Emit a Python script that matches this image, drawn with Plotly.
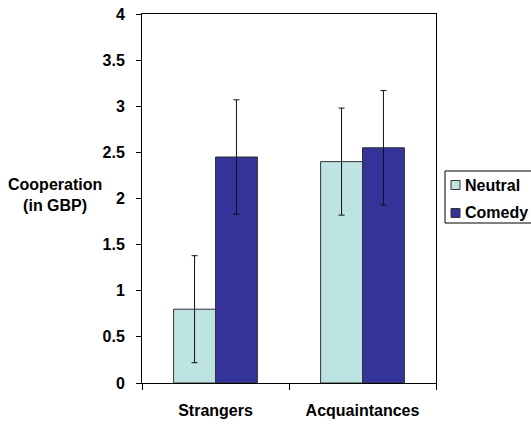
import plotly.graph_objects as go

categories = ["Strangers", "Acquaintances"]
series_names = ["Neutral", "Comedy"]
neutral_vals = [0.80, 2.40]
comedy_vals = [2.45, 2.55]
neutral_err = [0.58, 0.58]
comedy_err = [0.62, 0.62]
y_tick_vals = [0, 0.5, 1, 1.5, 2, 2.5, 3, 3.5, 4]
y_tick_text = ["0", "0.5", "1", "1.5", "2", "2.5", "3", "3.5", "4"]

colors = ["#BDE3E3", "#333399"]
FONT = "Liberation Sans, Arial, sans-serif"
FS = 16

fig = go.Figure()
for name, vals, errs, col in zip(series_names, [neutral_vals, comedy_vals],
                                 [neutral_err, comedy_err], colors):
    fig.add_trace(go.Bar(
        x=categories, y=vals, name=name,
        marker=dict(color=col, line=dict(color="#333333", width=1)),
        error_y=dict(type="data", array=errs, visible=True,
                     color="#111111", thickness=1, width=3),
        showlegend=False,
    ))

fig.update_layout(
    width=531, height=425,
    margin=dict(l=142, r=95, t=14, b=42),
    paper_bgcolor="white", plot_bgcolor="white",
    barmode="group", bargap=0.43, bargroupgap=0,
    font=dict(family=FONT, size=FS, color="black"),
    xaxis=dict(
        showline=True, linecolor="black", linewidth=1, mirror=True,
        ticks="outside", ticklen=6, tickcolor="black", tickson="boundaries",
        tickfont=dict(family=FONT, size=FS, color="black", weight="bold"),
        ticklabelstandoff=13, range=[-0.5, 1.5], automargin=False,
    ),
    yaxis=dict(
        range=[0, 4], tickvals=y_tick_vals, ticktext=y_tick_text,
        showline=True, linecolor="black", linewidth=1, mirror=True,
        ticks="outside", ticklen=5, tickcolor="black", showgrid=False,
        zeroline=False, automargin=False,
        tickfont=dict(family=FONT, size=FS, color="black", weight="bold"),
        ticklabelstandoff=8,
    ),
)

def px_x(px):
    return (px - 142) / 294

def px_y(py):
    return (383 - py) / 369

# y axis title
fig.add_annotation(
    xref="paper", yref="paper", x=px_x(55), y=px_y(195),
    text="<b>Cooperation<br>(in GBP)</b>", showarrow=False,
    font=dict(family=FONT, size=FS, color="black"), align="center",
    xanchor="center", yanchor="middle",
)

# legend (box, swatches, labels)
fig.add_shape(type="rect", xref="paper", yref="paper",
              x0=px_x(445), x1=px_x(545), y0=px_y(223), y1=px_y(171),
              line=dict(color="black", width=1), fillcolor="white")
for i, (name, col) in enumerate(zip(series_names, colors)):
    cy = 185 + 28 * i
    fig.add_shape(type="rect", xref="paper", yref="paper",
                  x0=px_x(451), x1=px_x(460), y0=px_y(cy + 4.5), y1=px_y(cy - 4.5),
                  line=dict(color="#333333", width=1), fillcolor=col)
    fig.add_annotation(xref="paper", yref="paper", x=px_x(463), y=px_y(cy),
                       text="<b>" + name + "</b>", showarrow=False,
                       xanchor="left", yanchor="middle",
                       font=dict(family=FONT, size=FS, color="black"))

fig.write_html("out.html", config={"displayModeBar": False},
               post_script="document.body.style.margin='0';")
